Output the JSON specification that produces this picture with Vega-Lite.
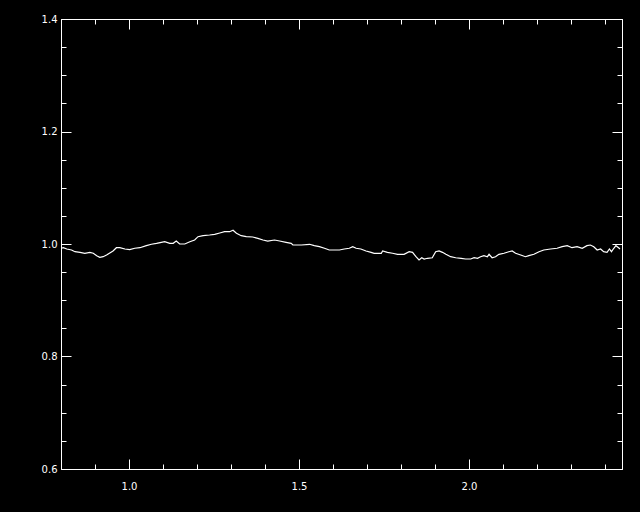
{
  "$schema": "https://vega.github.io/schema/vega-lite/v6.json",
  "width": 561,
  "height": 450,
  "autosize": "none",
  "padding": {"left": 61, "top": 19, "right": 18, "bottom": 43},
  "background": "black",
  "config": {
    "view": {"stroke": "white", "strokeWidth": 1},
    "axis": {
      "domainColor": "white", "tickColor": "white", "labelColor": "white",
      "labelFont": "DejaVu Sans", "labelFontSize": 10, "grid": false, "title": null,
      "tickWidth": 1, "domainWidth": 1
    }
  },
  "data": {"values": [
    {"x":0.800,"y":0.9924},{"x":0.807,"y":0.9934},{"x":0.817,"y":0.9911},{"x":0.831,"y":0.9893},{"x":0.841,"y":0.9863},
    {"x":0.856,"y":0.9852},{"x":0.870,"y":0.9835},{"x":0.885,"y":0.9852},{"x":0.895,"y":0.9835},{"x":0.905,"y":0.9792},
    {"x":0.914,"y":0.9764},{"x":0.924,"y":0.9774},{"x":0.934,"y":0.9804},{"x":0.953,"y":0.9876},{"x":0.963,"y":0.9934},
    {"x":0.973,"y":0.9934},{"x":0.988,"y":0.9911},{"x":1.002,"y":0.9899},{"x":1.017,"y":0.9924},{"x":1.032,"y":0.9934},
    {"x":1.051,"y":0.9970},{"x":1.066,"y":0.9995},{"x":1.081,"y":1.0012},{"x":1.095,"y":1.0030},{"x":1.105,"y":1.0041},
    {"x":1.120,"y":1.0012},{"x":1.130,"y":1.0012},{"x":1.139,"y":1.0053},{"x":1.149,"y":1.0000},{"x":1.164,"y":1.0000},
    {"x":1.179,"y":1.0041},{"x":1.193,"y":1.0071},{"x":1.203,"y":1.0130},{"x":1.218,"y":1.0148},{"x":1.237,"y":1.0160},
    {"x":1.252,"y":1.0172},{"x":1.267,"y":1.0196},{"x":1.281,"y":1.0219},{"x":1.296,"y":1.0219},{"x":1.306,"y":1.0244},
    {"x":1.316,"y":1.0190},{"x":1.330,"y":1.0148},{"x":1.345,"y":1.0130},{"x":1.364,"y":1.0124},{"x":1.379,"y":1.0101},
    {"x":1.394,"y":1.0071},{"x":1.408,"y":1.0053},{"x":1.428,"y":1.0071},{"x":1.443,"y":1.0053},{"x":1.462,"y":1.0030},
    {"x":1.477,"y":1.0012},{"x":1.482,"y":0.9982},{"x":1.507,"y":0.9982},{"x":1.531,"y":0.9995},{"x":1.545,"y":0.9970},
    {"x":1.560,"y":0.9952},{"x":1.575,"y":0.9924},{"x":1.589,"y":0.9893},{"x":1.619,"y":0.9893},{"x":1.633,"y":0.9911},
    {"x":1.648,"y":0.9924},{"x":1.658,"y":0.9952},{"x":1.668,"y":0.9924},{"x":1.682,"y":0.9911},{"x":1.697,"y":0.9876},
    {"x":1.712,"y":0.9852},{"x":1.721,"y":0.9835},{"x":1.742,"y":0.9835},{"x":1.746,"y":0.9876},{"x":1.760,"y":0.9852},
    {"x":1.775,"y":0.9835},{"x":1.790,"y":0.9817},{"x":1.809,"y":0.9817},{"x":1.824,"y":0.9863},{"x":1.834,"y":0.9852},
    {"x":1.844,"y":0.9774},{"x":1.853,"y":0.9716},{"x":1.861,"y":0.9756},{"x":1.868,"y":0.9733},{"x":1.878,"y":0.9746},
    {"x":1.892,"y":0.9756},{"x":1.902,"y":0.9863},{"x":1.912,"y":0.9876},{"x":1.922,"y":0.9852},{"x":1.932,"y":0.9817},
    {"x":1.946,"y":0.9774},{"x":1.961,"y":0.9756},{"x":1.977,"y":0.9746},{"x":1.990,"y":0.9733},{"x":2.005,"y":0.9733},
    {"x":2.015,"y":0.9756},{"x":2.025,"y":0.9746},{"x":2.034,"y":0.9774},{"x":2.044,"y":0.9792},{"x":2.054,"y":0.9774},
    {"x":2.059,"y":0.9817},{"x":2.068,"y":0.9756},{"x":2.078,"y":0.9774},{"x":2.088,"y":0.9817},{"x":2.103,"y":0.9835},
    {"x":2.117,"y":0.9863},{"x":2.127,"y":0.9876},{"x":2.137,"y":0.9835},{"x":2.152,"y":0.9804},{"x":2.166,"y":0.9774},
    {"x":2.176,"y":0.9792},{"x":2.191,"y":0.9817},{"x":2.206,"y":0.9863},{"x":2.220,"y":0.9893},{"x":2.240,"y":0.9911},
    {"x":2.259,"y":0.9924},{"x":2.274,"y":0.9952},{"x":2.289,"y":0.9970},{"x":2.303,"y":0.9934},{"x":2.318,"y":0.9952},
    {"x":2.333,"y":0.9924},{"x":2.347,"y":0.9970},{"x":2.357,"y":0.9982},{"x":2.367,"y":0.9952},{"x":2.377,"y":0.9893},
    {"x":2.387,"y":0.9911},{"x":2.396,"y":0.9863},{"x":2.406,"y":0.9852},{"x":2.413,"y":0.9911},{"x":2.419,"y":0.9863},
    {"x":2.426,"y":0.9924},{"x":2.432,"y":0.9970},{"x":2.440,"y":0.9934},{"x":2.444,"y":0.9911}
  ]},
  "layer": [
    {
      "mark": {"type": "line", "color": "white", "strokeWidth": 1.2, "clip": true},
      "encoding": {
        "x": {"field": "x", "type": "quantitative",
          "scale": {"domain": [0.8, 2.45], "nice": false, "zero": false},
          "axis": {"orient": "bottom",
            "values": [0.9,1.0,1.1,1.2,1.3,1.4,1.5,1.6,1.7,1.8,1.9,2.0,2.1,2.2,2.3,2.4],
            "tickSize": {"condition": {"test": "abs(datum.value*2-round(datum.value*2))<0.001", "value": -10}, "value": -5},
            "labelExpr": "abs(datum.value*2-round(datum.value*2))<0.001 ? format(datum.value,'.1f') : ''",
            "labelPadding": 22, "labelFlush": false, "labelOverlap": false}},
        "y": {"field": "y", "type": "quantitative",
          "scale": {"domain": [0.6, 1.4], "nice": false, "zero": false},
          "axis": {"orient": "left",
            "values": [0.6,0.65,0.7,0.75,0.8,0.85,0.9,0.95,1.0,1.05,1.1,1.15,1.2,1.25,1.3,1.35,1.4],
            "tickSize": {"condition": {"test": "abs(datum.value*5-round(datum.value*5))<0.001", "value": -10}, "value": -5},
            "labelExpr": "abs(datum.value*5-round(datum.value*5))<0.001 ? format(datum.value,'.1f') : ''",
            "labelPadding": 14, "labelFlush": false, "labelOverlap": false}}
      }
    },
    {
      "mark": {"type": "line", "opacity": 0},
      "encoding": {
        "x": {"field": "x", "type": "quantitative",
          "axis": {"orient": "top", "labels": false,
            "values": [0.9,1.0,1.1,1.2,1.3,1.4,1.5,1.6,1.7,1.8,1.9,2.0,2.1,2.2,2.3,2.4],
            "tickSize": {"condition": {"test": "abs(datum.value*2-round(datum.value*2))<0.001", "value": -10}, "value": -5}}},
        "y": {"field": "y", "type": "quantitative",
          "axis": {"orient": "right", "labels": false,
            "values": [0.6,0.65,0.7,0.75,0.8,0.85,0.9,0.95,1.0,1.05,1.1,1.15,1.2,1.25,1.3,1.35,1.4],
            "tickSize": {"condition": {"test": "abs(datum.value*5-round(datum.value*5))<0.001", "value": -10}, "value": -5}}}
      }
    }
  ],
  "resolve": {"axis": {"x": "independent", "y": "independent"}}
}
